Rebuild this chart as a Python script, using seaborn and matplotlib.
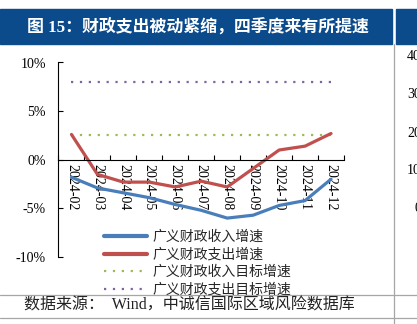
import matplotlib
matplotlib.use("Agg")
import matplotlib.pyplot as plt
from matplotlib.patches import Rectangle
from matplotlib.lines import Line2D
import seaborn as sns
import pandas as pd
import numpy as np

# ---- data ----
months = ['2024-02', '2024-03', '2024-04', '2024-05', '2024-06', '2024-07',
          '2024-08', '2024-09', '2024-10', '2024-11', '2024-12']
revenue_growth = [-1.8, -2.9, -3.4, -3.9, -4.6, -5.2, -6.0, -5.7, -4.7, -4.2, -2.0]
expenditure_growth = [2.6, -1.5, -2.3, -2.3, -2.8, -2.2, -2.8, -0.9, 1.0, 1.4, 2.7]
revenue_target = [2.5] * 11
expenditure_target = [8.0] * 11
series_names = ['广义财政收入增速', '广义财政支出增速', '广义财政收入目标增速', '广义财政支出目标增速']
y_ticks = [-10, -5, 0, 5, 10]
y_labels = ['-10%', '-5%', '0%', '5%', '10%']
right_labels = ['40', '30', '20', '10', '0']
title = '图 15：财政支出被动紧缩，四季度来有所提速'
source = '数据来源：  Wind，中诚信国际区域风险数据库'

sns.set_theme(style='white')
plt.rcParams['font.family'] = ['Liberation Serif', 'Noto Sans CJK SC', 'DejaVu Sans']
plt.rcParams['axes.unicode_minus'] = False

W, H = 417, 324
fig = plt.figure(figsize=(W / 100, H / 100), dpi=100)
fig.patch.set_facecolor('white')

def fx(px):
    return px / W

def fy(py):
    return 1 - py / H

ax = fig.add_axes([fx(58.5), fy(257), fx(344) - fx(58.5), fy(62.5) - fy(257)])
ax.set_facecolor('white')

df = pd.DataFrame({'x': np.arange(len(months)),
                   series_names[0]: revenue_growth,
                   series_names[1]: expenditure_growth,
                   series_names[2]: revenue_target,
                   series_names[3]: expenditure_target})

colors = ['#4a7ebb', '#c0504d', '#9bbb59', '#8064a2']
sns.lineplot(data=df, x='x', y=series_names[2], ax=ax, color=colors[2], lw=1.6,
             linestyle=(0, (1, 3)))
sns.lineplot(data=df, x='x', y=series_names[3], ax=ax, color=colors[3], lw=1.6,
             linestyle=(0, (1, 3)))
sns.lineplot(data=df, x='x', y=series_names[0], ax=ax, color=colors[0], lw=2.3)
sns.lineplot(data=df, x='x', y=series_names[1], ax=ax, color=colors[1], lw=2.3)

ax.set_xlim(-0.5, len(months) - 0.5)
ax.set_ylim(-10, 10)
ax.set_xlabel('')
ax.set_ylabel('')

for s in ['top', 'right']:
    ax.spines[s].set_visible(False)
ax.spines['bottom'].set_position(('data', 0))
for s in ['left', 'bottom']:
    ax.spines[s].set_color('black')
    ax.spines[s].set_linewidth(0.8)

ax.set_yticks(y_ticks)
ax.set_yticklabels(y_labels, fontsize=10, color='black')
ax.tick_params(axis='y', direction='in', length=3.5, width=0.8, color='black', pad=9, left=True)

ax.set_xticks(np.arange(len(months)))
ax.set_xticklabels(months, rotation=270, fontsize=10, color='black', va='top', ha='center')
ax.set_xticks(np.arange(-0.5, len(months)), minor=True)
ax.tick_params(axis='x', which='major', length=0, pad=3, bottom=True)
ax.tick_params(axis='x', which='minor', direction='in', length=3.5, width=0.8, color='black', bottom=True)

# legend
handles = [Line2D([], [], color=colors[0], lw=3.0),
           Line2D([], [], color=colors[1], lw=3.0),
           Line2D([], [], color=colors[2], lw=1.6, linestyle=(0, (1, 3))),
           Line2D([], [], color=colors[3], lw=1.6, linestyle=(0, (1, 3)))]
fig.legend(handles, series_names, loc='upper left', bbox_to_anchor=(fx(104), fy(230)),
           frameon=False, handlelength=3.1, handletextpad=0.36,
           labelspacing=0.25, borderpad=0, borderaxespad=0,
           prop={'family': ['Noto Sans CJK SC'], 'size': 10})

# title band and decorations
band_color = '#0b4a8b'
fig.patches.append(Rectangle((0, fy(43.5)), fx(392), fy(9) - fy(43.5),
                             transform=fig.transFigure, color=band_color, zorder=0))
fig.patches.append(Rectangle((fx(396), fy(43.5)), fx(W) - fx(396), fy(9) - fy(43.5),
                             transform=fig.transFigure, color=band_color, zorder=0))
fig.text(fx(27), fy(26.5), title, color='white', fontsize=12.2, fontweight='bold',
         va='center', ha='left', family=['Liberation Serif', 'Noto Sans CJK SC'])

gray = '#a6a6a6'
fig.lines.append(Line2D([fx(394), fx(394)], [fy(43.5), 0], transform=fig.transFigure,
                        color=gray, lw=0.9))
fig.lines.append(Line2D([0, 1], [fy(294.5), fy(294.5)], transform=fig.transFigure,
                        color=gray, lw=0.9))
fig.lines.append(Line2D([0, 1], [fy(317.5), fy(317.5)], transform=fig.transFigure,
                        color=gray, lw=0.9))

fig.text(fx(24), fy(306), source, color='#222222', fontsize=11.5, va='center', ha='left',
         family=['Liberation Serif', 'Noto Sans CJK SC'])

for lab, py in zip(right_labels, [57, 95, 133, 171, 209]):
    fig.text(fx(421), fy(py), lab, fontsize=10, color='black', ha='right', va='center')

fig.savefig('out.png', dpi=100)
